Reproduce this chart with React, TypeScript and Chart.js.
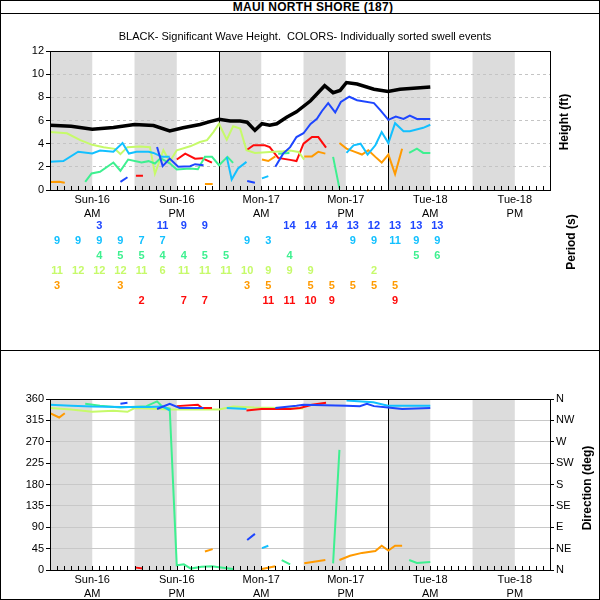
import { useEffect, useRef } from "react";
import { Chart, registerables } from "chart.js";
import type { Plugin } from "chart.js";

Chart.register(...registerables);

type Pt = [number, number | null];

const FONT = "'Liberation Sans', Arial, sans-serif";

// hours from Sun-16 00:00
const labelHours = [6, 18, 30, 42, 54, 66];
const dayLabels = ["Sun-16", "Sun-16", "Mon-17", "Mon-17", "Tue-18", "Tue-18"];
const halfLabels = ["AM", "PM", "AM", "PM", "AM", "PM"];
const nightBands = [[0, 6], [12, 18], [24, 30], [36, 42], [48, 54], [60, 66]];
const dayLines = [24, 48];

const dirTicks = [0, 45, 90, 135, 180, 225, 270, 315, 360];
const compassLabels = ["N", "NE", "E", "SE", "S", "SW", "W", "NW", "N"];

const BLUE = "#1e46ff";
const CYAN = "#12c0ff";
const GREEN = "#3ef090";
const LIME = "#c6fa6a";
const ORANGE = "#ff9a00";
const RED = "#ff0a0a";

// significant wave height (ft)
const hsBlack: Pt[] = [[0, 5.6], [3, 5.5], [6, 5.25], [9, 5.4], [12, 5.65], [14.7, 5.57], [17, 5.1], [18.9, 5.37], [21.3, 5.66], [22.7, 5.9], [24, 6.1], [25.6, 5.95], [27, 5.95], [28, 5.85], [29.1, 5.15], [30.1, 5.72], [31.2, 5.6], [32.2, 5.72], [33.6, 6.28], [35, 6.75], [37, 7.7], [39, 9.0], [40.2, 8.4], [41.2, 8.6], [42.1, 9.28], [43.6, 9.15], [46, 8.7], [48, 8.5], [49.7, 8.7], [54, 8.9]];

// swell heights (ft)
const hsBlue: Pt[] = [[10, 0.7], [11, 1.1], [12, null], [15.2, 3.71], [16, 2.06], [17, 2.71], [18.2, 2.0], [19.9, 2.06], [20.6, 2.23], [21.8, 2.14], [23, null], [28, 0.77], [29.1, 0.63], [30, null], [32, 2.0], [33.1, 3.14], [34.1, 3.7], [35, 4.57], [36, 4.9], [37, 5.7], [37.9, 6.14], [38.6, 6.8], [39.5, 7.5], [40.5, 6.7], [41.3, 7.6], [42.5, 8.05], [43.6, 7.75], [46, 7.5], [46.9, 6.9], [48.05, 6.06], [49.1, 6.34], [50.2, 6.14], [51.1, 6.43], [52.1, 6.14], [54, 6.14]];
const hsCyan: Pt[] = [[0, 2.43], [1.9, 2.5], [4, 3.3], [6, 3.15], [7.1, 3.4], [9, 3.3], [10.3, 4.05], [11.2, 3.15], [12.3, 3.3], [14, 3.3], [14.7, 3.2], [15.9, 2.86], [17, 2.86], [17.5, null], [25.1, 2.86], [25.8, 0.9], [26.7, 1.86], [27.9, 2.43], [29, null], [30.1, 1.0], [31, 1.2], [32, null], [42.1, 3.2], [43.1, 3.86], [44.1, 4.0], [45.1, 3.06], [46.2, 3.86], [47.1, 5.0], [48.05, 4.05], [49, 5.77], [50.2, 5.08], [51.1, 5.08], [53, 5.37], [54, 5.63]];
const hsGreen: Pt[] = [[5, 0.71], [5.9, 1.43], [7.1, 1.57], [9, 2.37], [10, 1.66], [11.1, 2.63], [13, 2.37], [14, 2.49], [14.9, 2.29], [15.7, 2.75], [17, 2.3], [18, 1.77], [19.9, 1.86], [21, 1.8], [22, 2.86], [23, 2.86], [24, 2.14], [25.2, 2.86], [26, 2.34], [27, null], [32.4, 3.14], [34, 3.2], [35, null], [40.2, 2.86], [41.1, 0.14], [45, null], [51, 3.2], [52.1, 3.57], [53, 3.2], [54, 3.2]];
const hsLime: Pt[] = [[0, 5.0], [2.4, 4.9], [4.3, 4.3], [6, 3.9], [7.6, 3.7], [9.2, 3.55], [10, 3.1], [11, 3.7], [12.8, 3.75], [14.2, 3.7], [14.9, 1.4], [16.1, 3.43], [17, 2.43], [18, 3.43], [19.9, 3.77], [21.3, 4.14], [22.3, 4.3], [23.2, 5.0], [24, 5.72], [25.1, 4.35], [26, 5.5], [27, 5.3], [27.9, 3.43], [29.1, 3.2], [31.2, 3.29], [33.1, 3.35], [34.1, 3.4], [35.3, 3.29], [36.1, 2.63]];
const hsOrange: Pt[] = [[0, 0.7], [1.3, 0.72], [2.1, 0.63], [3, null], [22, 0.51], [23.1, 0.51], [25, null], [30.1, 2.63], [31, 2.5], [32, 2.9], [33, null], [36.1, 2.9], [37.2, 2.9], [38.1, 3.3], [39.1, 3.14], [40, null], [41.1, 4.05], [42.1, 3.57], [43.3, 3.29], [44.3, 3.06], [45.2, 3.43], [46.2, 2.86], [47.1, 2.37], [48.05, 3.06], [49, 1.37], [50, 3.57]];
const hsRed: Pt[] = [[12.2, 1.23], [13.2, 1.23], [14, null], [18, 2.63], [19.2, 3.14], [20.6, 2.7], [21.6, 2.75], [23, 2.37], [25, null], [27.9, 3.43], [28.9, 3.86], [30.5, 3.86], [31.2, 3.71], [32.4, 2.77], [34.1, 2.6], [35, 2.5], [36, 4.0], [37.2, 4.57], [38.1, 4.57], [39.2, 3.66]];

// swell directions (deg)
const dirBlue: Pt[] = [[10, 350], [11, 352], [12, null], [15.2, 339], [17, 350], [18.4, 341], [21.8, 341], [23, null], [28, 63], [29.1, 76], [30, null], [32, 341], [35, 346], [36, 348], [42.1, 346], [44, 345], [45, 350], [46, 345], [48, 342], [50, 339], [54, 341]];
const dirCyan: Pt[] = [[0, 348], [3, 346], [6, 344], [10, 343], [14, 343], [16, 344], [17, 336], [17.5, null], [25.1, 341], [27.9, 339], [29, null], [30.1, 46], [31, 51], [32, null], [42.1, 357], [45.9, 353], [48, 346], [54, 346]];
const dirGreen: Pt[] = [[5, 350], [7.1, 346], [10, 342], [13.7, 345], [15.2, 355], [16, 343], [17, 340], [18, 10], [19, 12], [20, 3], [21.5, 7], [23, 8], [24, 6], [26, 2], [27, null], [32.9, 21], [34.1, 12], [35, null], [40.2, 14], [41.1, 253], [45, null], [51, 21], [52.1, 15], [54, 17]];
const dirLime: Pt[] = [[0, 341], [3, 338], [6, 333], [9, 335], [11, 333], [12, 341], [14, 340], [17, 338], [21, 338], [24, 338], [26, 344], [29, 342], [33, 341], [36, 340]];
const dirOrange: Pt[] = [[0, 330], [1.3, 321], [2.1, 330], [3, null], [22, 39], [23.1, 44], [25, null], [30.1, 2], [32, 8], [33, null], [36.1, 14], [39.1, 21], [40, null], [41.1, 21], [42.6, 30], [44.3, 36], [46.2, 40], [47.1, 51], [48.05, 41], [49, 51], [50, 51]];
const dirRed: Pt[] = [[12.2, 5], [13.2, 3], [14, null], [18, 345], [21, 348], [21.6, 341], [23, 341], [25, null], [27.9, 336], [30, 339], [32.4, 339], [34.1, 339], [35.5, 341], [37.2, 348], [39.2, 352]];

// period table (s), one column every 3 hours
const periodHours = [1, 4, 7, 10, 13, 16, 19, 22, 25, 28, 31, 34, 37, 40, 43, 46, 49, 52, 55];
const periodBlue = [null, null, 3, null, null, 11, 9, 9, null, null, null, 14, 14, 14, 13, 12, 13, 13, 13];
const periodCyan = [9, 9, 9, 9, 7, 7, null, null, null, 9, 3, null, null, null, 9, 9, 11, 9, 9];
const periodGreen = [null, null, 4, 5, 5, 4, 4, 5, 5, null, null, 4, null, null, null, null, null, 5, 6];
const periodLime = [11, 12, 12, 12, 11, 6, 11, 11, 11, 10, 9, 9, 9, null, null, 2, null, null, null];
const periodOrange = [3, null, null, 3, null, null, null, null, null, 3, 5, null, 5, 5, 5, 5, 5, null, null];
const periodRed = [null, null, null, null, 2, null, 7, 7, null, null, 11, 11, 10, 9, null, null, 9, null, null];

const periodRows: [(number | null)[], string][] = [
  [periodBlue, BLUE],
  [periodCyan, CYAN],
  [periodGreen, GREEN],
  [periodLime, LIME],
  [periodOrange, ORANGE],
  [periodRed, RED],
];

const toXY = (pts: Pt[]) => pts.map(([x, y]) => ({ x, y }));

const line = (data: Pt[], color: string, width = 2) => ({
  data: toXY(data),
  borderColor: color,
  borderWidth: width,
  pointRadius: 0,
  spanGaps: false,
  tension: 0,
});

const framePlugin: Plugin<"line"> = {
  id: "frame",
  beforeDraw(chart) {
    const { ctx, chartArea: a } = chart;
    const x = chart.scales.x;
    ctx.save();
    ctx.fillStyle = "#dcdcdc";
    for (const [s, e] of nightBands) {
      const x0 = x.getPixelForValue(s);
      const x1 = x.getPixelForValue(e);
      ctx.fillRect(x0, a.top, x1 - x0, a.bottom - a.top);
    }
    ctx.restore();
  },
  beforeDatasetsDraw(chart) {
    const { ctx, chartArea: a } = chart;
    const x = chart.scales.x;
    ctx.save();
    ctx.strokeStyle = "#000";
    ctx.lineWidth = 1;
    for (const d of dayLines) {
      const px = Math.round(x.getPixelForValue(d)) + 0.5;
      ctx.beginPath();
      ctx.moveTo(px, a.top);
      ctx.lineTo(px, a.bottom);
      ctx.stroke();
    }
    ctx.restore();
  },
  afterDraw(chart) {
    const { ctx, chartArea: a } = chart;
    const x = chart.scales.x;
    ctx.save();
    ctx.strokeStyle = "#000";
    ctx.lineWidth = 1;
    ctx.strokeRect(Math.round(a.left) + 0.5, Math.round(a.top) + 0.5, Math.round(a.right - a.left), Math.round(a.bottom - a.top));
    ctx.beginPath();
    for (let h = Math.ceil(x.min); h <= x.max; h++) {
      const px = Math.round(x.getPixelForValue(h)) + 0.5;
      ctx.moveTo(px, a.bottom);
      ctx.lineTo(px, a.bottom - 4);
    }
    ctx.stroke();
    ctx.restore();
  },
};

const drawVertical = (ctx: CanvasRenderingContext2D, text: string, cx: number, cy: number) => {
  ctx.save();
  ctx.translate(cx, cy);
  ctx.rotate(-Math.PI / 2);
  ctx.font = `bold 12px ${FONT}`;
  ctx.fillStyle = "#000";
  ctx.textAlign = "center";
  ctx.textBaseline = "middle";
  ctx.fillText(text, 0, 0);
  ctx.restore();
};

const heightExtras: Plugin<"line"> = {
  id: "heightExtras",
  afterDraw(chart) {
    const { ctx, chartArea: a } = chart;
    const x = chart.scales.x;
    ctx.save();
    ctx.fillStyle = "#000";
    ctx.font = `11px ${FONT}`;
    ctx.textAlign = "center";
    ctx.textBaseline = "middle";
    ctx.fillText("BLACK- Significant Wave Height.  COLORS- Individually sorted swell events", 305, a.top - 14);
    ctx.restore();
    drawVertical(ctx, "Height (ft)", a.right + 15, 108);
    drawVertical(ctx, "Period (s)", a.right + 22, 228);

    ctx.save();
    ctx.font = `bold 11px ${FONT}`;
    ctx.textAlign = "center";
    ctx.textBaseline = "middle";
    periodRows.forEach(([vals, color], row) => {
      ctx.fillStyle = color;
      const py = a.bottom + 36 + row * 15.05;
      vals.forEach((v, i) => {
        if (v === null) return;
        ctx.fillText(String(v), x.getPixelForValue(periodHours[i]), py);
      });
    });
    ctx.restore();
  },
};

const directionExtras: Plugin<"line"> = {
  id: "directionExtras",
  afterDraw(chart) {
    const { ctx, chartArea: a } = chart;
    drawVertical(ctx, "Direction (deg)", a.right + 38, 137);
  },
};

const xAxis = (height: number) => ({
  type: "linear" as const,
  min: 0,
  max: 71,
  grid: { display: false, drawTicks: false },
  border: { display: false },
  afterBuildTicks: (s: any) => {
    s.ticks = labelHours.map((v) => ({ value: v }));
  },
  afterFit: (s: any) => {
    s.height = height;
  },
  ticks: {
    autoSkip: false,
    maxRotation: 0,
    padding: 3,
    color: "#000",
    font: { family: FONT, size: 11, lineHeight: 1.27 },
    callback: (v: any) => {
      const i = labelHours.indexOf(Number(v));
      return i < 0 ? "" : [dayLabels[i], halfLabels[i]];
    },
  },
});

export default function App() {
  const topRef = useRef<HTMLCanvasElement>(null);
  const bottomRef = useRef<HTMLCanvasElement>(null);

  useEffect(() => {
    if (!topRef.current || !bottomRef.current) return;

    const heightChart = new Chart(topRef.current, {
      type: "line",
      data: {
        datasets: [
          line(hsBlack, "#000", 3.5),
          line(hsBlue, BLUE),
          line(hsCyan, CYAN),
          line(hsGreen, GREEN),
          line(hsLime, LIME),
          line(hsOrange, ORANGE),
          line(hsRed, RED),
        ],
      },
      options: {
        animation: false,
        responsive: false,
        layout: { padding: { top: 37, right: 50, bottom: 130, left: 0 } },
        plugins: { legend: { display: false }, tooltip: { enabled: false } },
        scales: {
          x: xAxis(30),
          y: {
            min: 0,
            max: 12,
            afterFit: (s: any) => {
              s.width = 50;
            },
            ticks: { stepSize: 2, color: "#000", padding: 2, font: { family: FONT, size: 11 } },
            grid: {
              color: (c: any) => (c.tick && (c.tick.value === 0 || c.tick.value === 12) ? "rgba(0,0,0,0)" : "#c4c4c4"),
              tickColor: "#000",
              tickLength: 4,
              tickBorderDash: [],
            },
            border: { color: "#000", dash: [3, 3] },
          },
        },
      },
      plugins: [framePlugin, heightExtras],
    });

    const directionChart = new Chart(bottomRef.current, {
      type: "line",
      data: {
        datasets: [
          line(dirBlue, BLUE),
          line(dirRed, RED),
          line(dirCyan, CYAN),
          line(dirGreen, GREEN),
          line(dirLime, LIME),
          line(dirOrange, ORANGE),
        ],
      },
      options: {
        animation: false,
        responsive: false,
        layout: { padding: { top: 48, right: 0, bottom: 0, left: 0 } },
        plugins: { legend: { display: false }, tooltip: { enabled: false } },
        scales: {
          x: xAxis(29),
          y: {
            position: "left",
            min: 0,
            max: 360,
            afterFit: (s: any) => {
              s.width = 50;
            },
            afterBuildTicks: (s: any) => {
              s.ticks = dirTicks.map((v) => ({ value: v }));
            },
            ticks: { color: "#000", padding: 2, font: { family: FONT, size: 11 } },
            grid: { color: "#c8c8c8", tickColor: "#000", tickLength: 4 },
            border: { color: "#000" },
          },
          y2: {
            position: "right",
            min: 0,
            max: 360,
            afterFit: (s: any) => {
              s.width = 50;
            },
            afterBuildTicks: (s: any) => {
              s.ticks = dirTicks.map((v) => ({ value: v }));
            },
            ticks: {
              color: "#000",
              padding: 2,
              font: { family: FONT, size: 11 },
              callback: (v: any) => compassLabels[dirTicks.indexOf(Number(v))] ?? "",
            },
            grid: { drawOnChartArea: false, tickColor: "#000", tickLength: 4 },
            border: { color: "#000" },
          },
        },
      },
      plugins: [framePlugin, directionExtras],
    });

    return () => {
      heightChart.destroy();
      directionChart.destroy();
    };
  }, []);

  return (
    <div style={{ position: "relative", width: 600, height: 600, background: "#fff", fontFamily: FONT }}>
      <style>{"body{margin:0}"}</style>
      <canvas ref={topRef} width={600} height={336} style={{ position: "absolute", left: 0, top: 14 }} />
      <canvas ref={bottomRef} width={600} height={248} style={{ position: "absolute", left: 0, top: 351 }} />
      <div
        style={{
          position: "absolute",
          left: 0,
          top: 0,
          width: 600,
          height: 13,
          lineHeight: "14px",
          textAlign: "center",
          paddingLeft: 26,
          boxSizing: "border-box",
          font: `bold 12px ${FONT}`,
          letterSpacing: "0.3px",
        }}
      >
        MAUI NORTH SHORE (187)
      </div>
      <div style={{ position: "absolute", left: 0, top: 13, width: 600, height: 1, background: "#000" }} />
      <div style={{ position: "absolute", left: 0, top: 350, width: 600, height: 1, background: "#000" }} />
      <div
        style={{
          position: "absolute",
          inset: 0,
          border: "1px solid #000",
          boxSizing: "border-box",
          pointerEvents: "none",
        }}
      />
    </div>
  );
}
